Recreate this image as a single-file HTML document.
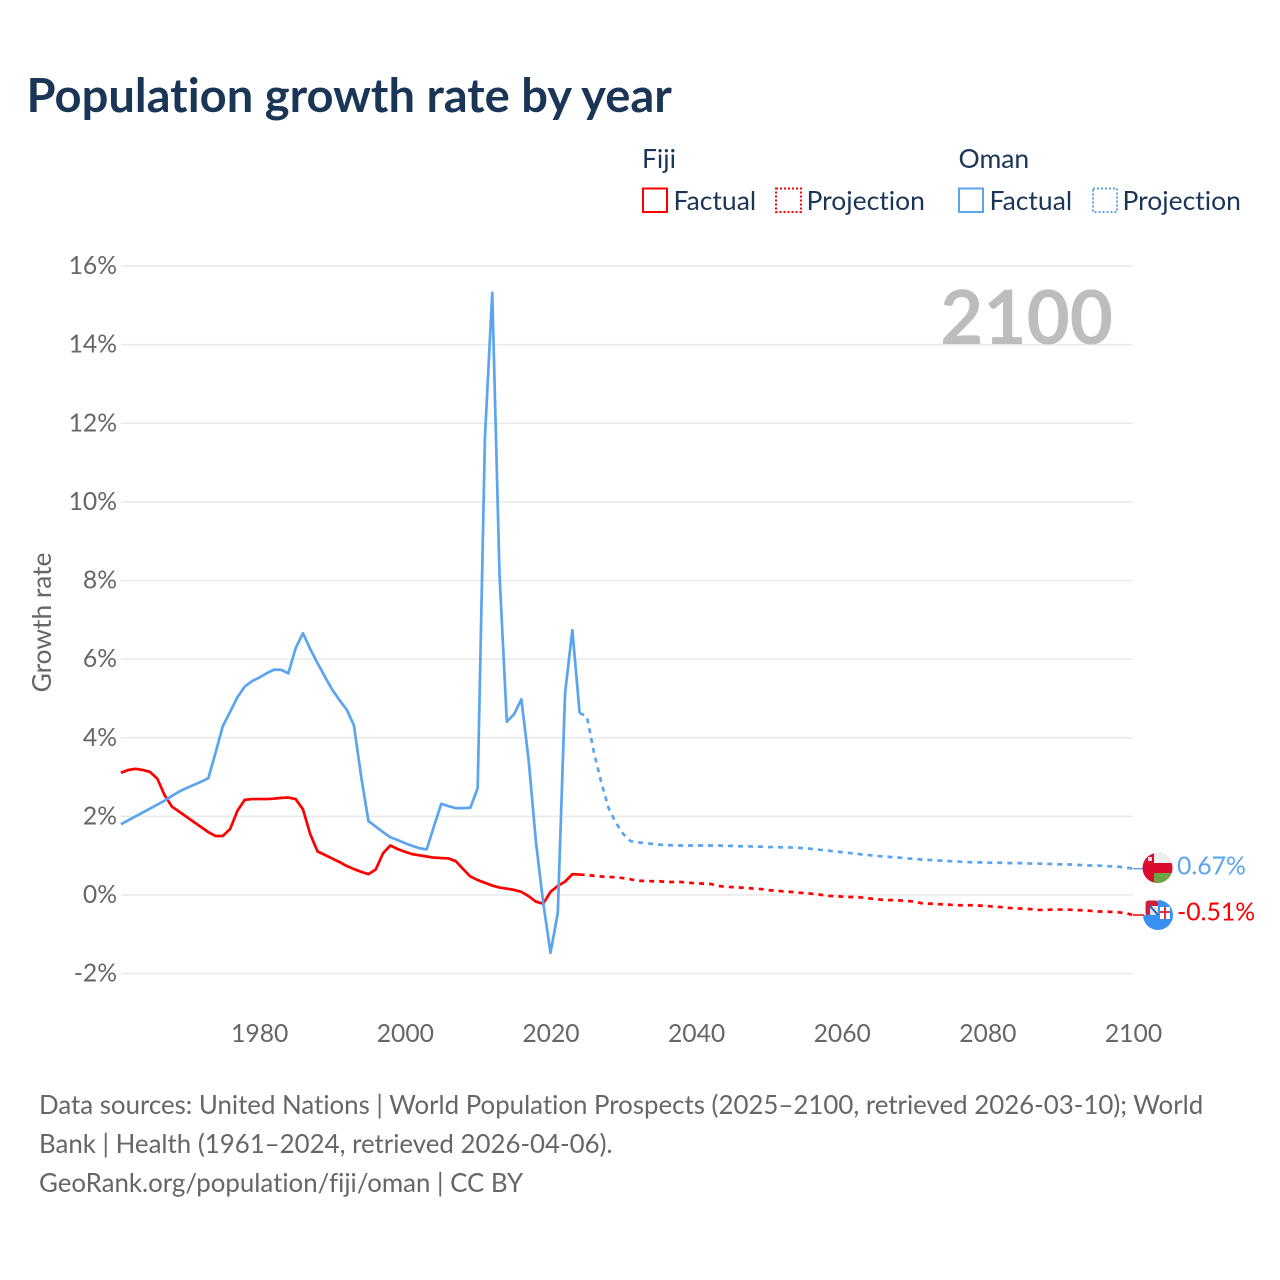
<!DOCTYPE html>
<html lang="en">
<head>
<meta charset="utf-8">
<title>Population growth rate by year</title>
<style>
html,body{margin:0;padding:0;background:#fff;}
svg{display:block;}
text{font-family:"Lato","Carlito","Liberation Sans",sans-serif;font-variant-ligatures:none;}
</style>
</head>
<body>
<svg id="chart" xmlns="http://www.w3.org/2000/svg" width="1280" height="1280" viewBox="0 0 1280 1280">
  <defs>
    <clipPath id="oman-clip"><circle cx="1157.5" cy="868" r="15"/></clipPath>
    <clipPath id="fiji-clip"><circle cx="1158" cy="915" r="15"/></clipPath>
  </defs>
  <rect width="1280" height="1280" fill="#fff"/>
  <text x="26.500" y="112" font-size="47.100" font-weight="700" fill="#1a3556">Population growth rate by year</text>

  <g id="legend" font-size="26.500" fill="#1a3556">
    <text x="642" y="168">Fiji</text>
    <text x="958.500" y="168">Oman</text>
    <g>
      <rect x="643" y="188.500" width="24" height="23.500" fill="none" stroke="#ff0000" stroke-width="2"/>
      <text x="673.500" y="210">Factual</text>
    </g>
    <g>
      <rect x="776" y="188.500" width="25" height="23.500" fill="none" stroke="#ff0000" stroke-width="2" stroke-dasharray="2 2"/>
      <text x="806.500" y="210">Projection</text>
    </g>
    <g>
      <rect x="959" y="188.500" width="24" height="23.500" fill="none" stroke="#5ba4ee" stroke-width="2"/>
      <text x="989.500" y="210">Factual</text>
    </g>
    <g>
      <rect x="1093" y="188.500" width="24" height="23.500" fill="none" stroke="#5ba4ee" stroke-width="2" stroke-dasharray="2 2"/>
      <text x="1122.500" y="210">Projection</text>
    </g>
  </g>

  <g id="grid"></g>
  <g id="y-ticks"></g>
  <g id="x-ticks"></g>
  <text transform="translate(51,622.500) rotate(-90)" text-anchor="middle" font-size="26.300" fill="#666">Growth rate</text>
  <text x="1113" y="344" text-anchor="end" font-size="74.500" font-weight="700" fill="#bdbdbd">2100</text>
  <g id="series"></g>

  <g clip-path="url(#oman-clip)">
    <rect x="1142" y="853" width="32" height="30" fill="#db0a2f"/>
    <rect x="1154" y="852" width="20" height="11" fill="#eeeeee"/>
    <rect x="1154" y="873" width="20" height="11" fill="#6ea544"/>
    <rect x="1148" y="857" width="4" height="4" fill="#f0d8d8"/>
  </g>
  <g>
    <rect x="1145.500" y="900.500" width="13" height="15.500" fill="#cf1f3a" rx="3"/>
    <rect x="1150" y="906" width="8" height="9" fill="#dfe6f2"/>
    <path d="M1150 906L1158 915" stroke="#2b5fa8" stroke-width="2"/>
    <g clip-path="url(#fiji-clip)">
      <rect x="1142" y="915" width="32" height="16" fill="#3a90f0"/>
      <rect x="1158" y="899" width="16" height="17" fill="#3a90f0"/>
      <rect x="1160" y="907" width="10" height="12" fill="#fff"/>
      <path d="M1165 907V919M1160 912H1170" stroke="#d8202c" stroke-width="1.800"/>
    </g>
  </g>
  <text id="oman-end-label" x="1177" y="874.500" font-size="24.800" fill="#5ba4ee"></text>
  <text id="fiji-end-label" x="1177" y="920.500" font-size="24.800" fill="#ff0000"></text>

  <g font-size="25.850" fill="#666">
    <text x="39" y="1114">Data sources: United Nations | World Population Prospects (2025–2100, retrieved 2026-03-10); World</text>
    <text x="39" y="1153">Bank | Health (1961–2024, retrieved 2026-04-06).</text>
    <text x="39" y="1192">GeoRank.org/population/fiji/oman | CC BY</text>
  </g>
</svg>
<script>
const yTickValues = [-2, 0, 2, 4, 6, 8, 10, 12, 14, 16];
const xTickYears = [1980, 2000, 2020, 2040, 2060, 2080, 2100];
const factualStartYear = 1961;
const projectionStartYear = 2024;
const fijiFactual = [
  3.11, 3.18, 3.21, 3.18, 3.13, 2.96, 2.54, 2.25, 2.12, 1.99,
  1.86, 1.73, 1.60, 1.50, 1.50, 1.68, 2.14, 2.42, 2.44, 2.44,
  2.44, 2.45, 2.47, 2.48, 2.44, 2.18, 1.55, 1.11, 1.02, 0.93,
  0.84, 0.74, 0.66, 0.59, 0.53, 0.65, 1.06, 1.26, 1.17, 1.10,
  1.04, 1.01, 0.98, 0.95, 0.94, 0.93, 0.86, 0.66, 0.47, 0.38,
  0.31, 0.24, 0.19, 0.16, 0.13, 0.08, -0.03, -0.17, -0.22, 0.08,
  0.23, 0.34, 0.53, 0.52
];
const omanFactual = [
  1.80, 1.90, 2.00, 2.10, 2.20, 2.30, 2.40, 2.52, 2.63, 2.72,
  2.80, 2.88, 2.97, 3.62, 4.30, 4.66, 5.03, 5.30, 5.44, 5.53,
  5.64, 5.73, 5.73, 5.64, 6.28, 6.66, 6.26, 5.90, 5.56, 5.23,
  4.96, 4.72, 4.32, 3.01, 1.88, 1.74, 1.60, 1.47, 1.40, 1.32,
  1.25, 1.19, 1.16, 1.75, 2.32, 2.26, 2.21, 2.21, 2.22, 2.72,
  11.65, 15.32, 8.14, 4.41, 4.60, 4.98, 3.43, 1.35, -0.20, -1.47,
  -0.46, 5.13, 6.74, 4.63
];
const fijiProjection = [
  0.52, 0.51, 0.49, 0.47, 0.46, 0.45, 0.43, 0.40, 0.36, 0.36,
  0.35, 0.35, 0.33, 0.33, 0.33, 0.31, 0.30, 0.29, 0.28, 0.23,
  0.21, 0.20, 0.19, 0.18, 0.16, 0.15, 0.12, 0.11, 0.09, 0.08,
  0.06, 0.05, 0.03, 0.01, -0.02, -0.03, -0.04, -0.05, -0.05, -0.07,
  -0.09, -0.11, -0.13, -0.13, -0.14, -0.15, -0.17, -0.21, -0.22, -0.23,
  -0.24, -0.25, -0.26, -0.26, -0.26, -0.27, -0.28, -0.30, -0.31, -0.33,
  -0.34, -0.35, -0.36, -0.38, -0.38, -0.37, -0.37, -0.37, -0.38, -0.39,
  -0.40, -0.42, -0.42, -0.43, -0.44, -0.46, -0.51
];
const omanProjection = [
  4.63, 4.54, 3.60, 2.85, 2.20, 1.83, 1.55, 1.37, 1.34, 1.32,
  1.30, 1.28, 1.27, 1.26, 1.26, 1.26, 1.26, 1.26, 1.26, 1.26,
  1.25, 1.25, 1.24, 1.24, 1.23, 1.23, 1.22, 1.22, 1.21, 1.21,
  1.20, 1.19, 1.17, 1.15, 1.13, 1.11, 1.09, 1.07, 1.05, 1.03,
  1.01, 0.99, 0.98, 0.96, 0.95, 0.93, 0.92, 0.90, 0.89, 0.88,
  0.87, 0.86, 0.85, 0.84, 0.83, 0.83, 0.82, 0.82, 0.82, 0.81,
  0.81, 0.81, 0.80, 0.80, 0.79, 0.79, 0.78, 0.78, 0.77, 0.76,
  0.75, 0.75, 0.74, 0.73, 0.72, 0.70, 0.67
];

const NS = 'http://www.w3.org/2000/svg';
const RED = '#ff0000';
const BLUE = '#5ba4ee';
function xScale(year) { return 120.9 + (year - 1961) * (1133 - 120.9) / (2100 - 1961); }
function yScale(value) { return 895 - value * 39.31; }

const gridGroup = document.getElementById('grid');
const yTickGroup = document.getElementById('y-ticks');
const xTickGroup = document.getElementById('x-ticks');
const seriesGroup = document.getElementById('series');

yTickValues.forEach(function (v) {
  const line = document.createElementNS(NS, 'line');
  
  
  line.setAttribute('x1', xScale(1961));
  line.setAttribute('x2', 1133);
  line.setAttribute('y1', yScale(v));
  line.setAttribute('y2', yScale(v));
  line.setAttribute('stroke', '#e9e9e9');
  line.setAttribute('stroke-width', '1.5');
  gridGroup.appendChild(line);

  const label = document.createElementNS(NS, 'text');
  
  
  label.setAttribute('x', 117);
  label.setAttribute('y', yScale(v) + 8);
  label.setAttribute('text-anchor', 'end');
  label.setAttribute('font-size', '24.7');
  label.setAttribute('fill', '#666');
  label.textContent = v + '%';
  yTickGroup.appendChild(label);
});

xTickYears.forEach(function (year) {
  const label = document.createElementNS(NS, 'text');
  
  
  label.setAttribute('x', xScale(year) + 0.5);
  label.setAttribute('y', 1042);
  label.setAttribute('text-anchor', 'middle');
  label.setAttribute('font-size', '24.7');
  label.setAttribute('fill', '#666');
  label.textContent = year;
  xTickGroup.appendChild(label);
});

function pointsFor(values, startYear) {
  return values.map(function (v, i) {
    return xScale(startYear + i).toFixed(2) + ',' + yScale(v).toFixed(2);
  }).join(' ');
}

function drawLine(name, values, startYear, color, dashed) {
  const line = document.createElementNS(NS, 'polyline');
  
  
  line.setAttribute('points', pointsFor(values, startYear));
  line.setAttribute('fill', 'none');
  line.setAttribute('stroke', color);
  line.setAttribute('stroke-width', '2.7');
  line.setAttribute('stroke-linejoin', 'round');
  if (dashed) { line.setAttribute('stroke-dasharray', '5 5'); }
  seriesGroup.appendChild(line);
}

function drawConnector(name, values, color) {
  const y = yScale(values[values.length - 1]);
  const line = document.createElementNS(NS, 'line');
  
  
  line.setAttribute('x1', xScale(2100));
  line.setAttribute('x2', 1144);
  line.setAttribute('y1', y);
  line.setAttribute('y2', y);
  line.setAttribute('stroke', color);
  line.setAttribute('stroke-width', '1.5');
  seriesGroup.appendChild(line);
}

drawLine('oman-projection-line', omanProjection, projectionStartYear, BLUE, true);
drawLine('fiji-projection-line', fijiProjection, projectionStartYear, RED, true);
drawLine('fiji-factual-line', fijiFactual, factualStartYear, RED, false);
drawLine('oman-factual-line', omanFactual, factualStartYear, BLUE, false);
drawConnector('oman-end-connector', omanProjection, BLUE);
drawConnector('fiji-end-connector', fijiProjection, RED);

document.getElementById('oman-end-label').textContent = omanProjection[omanProjection.length - 1].toFixed(2) + '%';
document.getElementById('fiji-end-label').textContent = fijiProjection[fijiProjection.length - 1].toFixed(2) + '%';
</script>
</body>
</html>
